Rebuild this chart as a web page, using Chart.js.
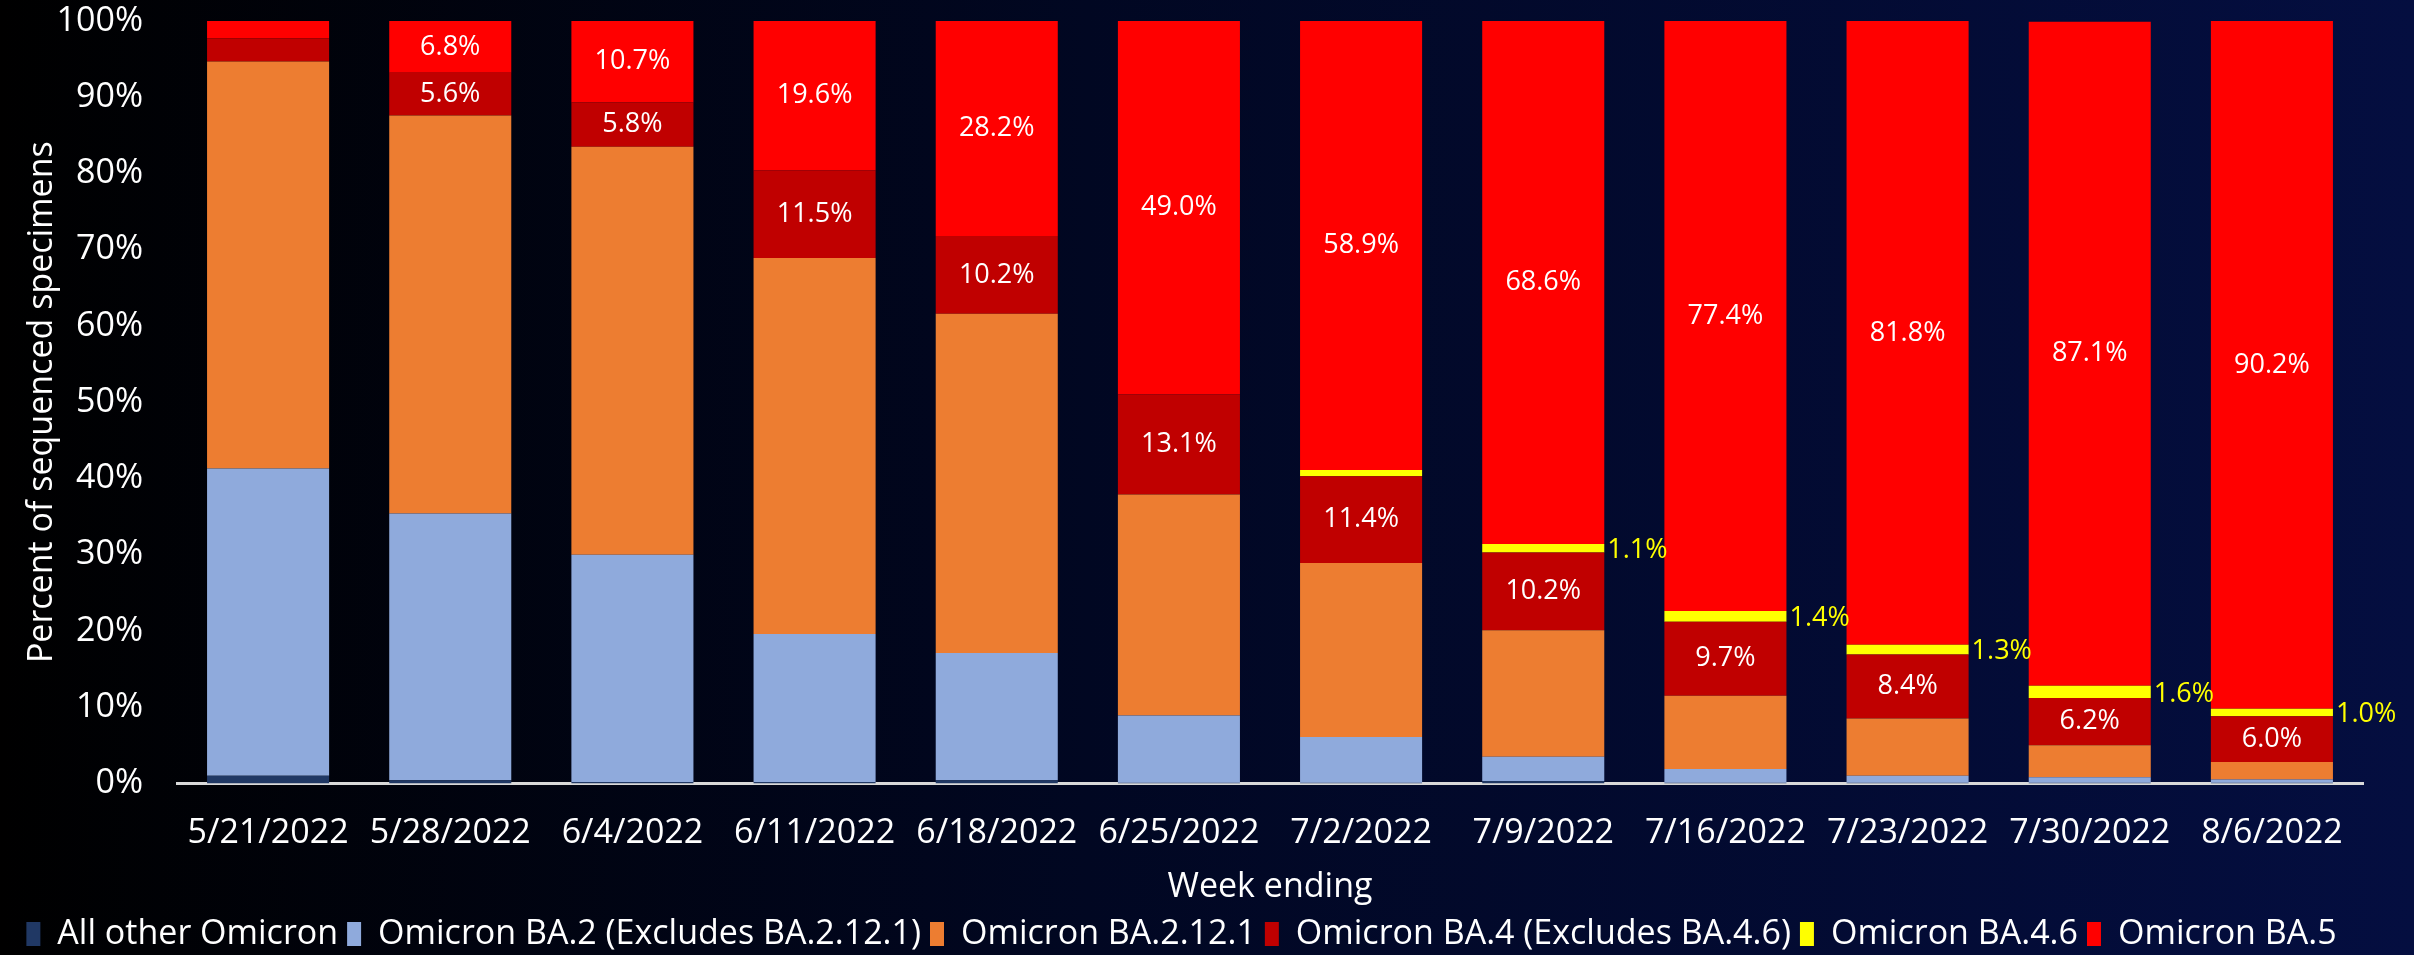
<!DOCTYPE html>
<html>
<head>
<meta charset="utf-8">
<script src="https://cdn.jsdelivr.net/npm/chart.js@4.4.1/dist/chart.umd.min.js"></script>
<style>
  html, body { margin: 0; padding: 0; }
  body { width: 2414px; height: 955px; overflow: hidden;
         background: linear-gradient(to right, #000000 0%, #010722 45%, #040e40 100%); }
  #wrap { width: 2414px; height: 955px; }
</style>
</head>
<body>
<div id="wrap"><canvas id="chart" width="2414" height="955"></canvas></div>
<script>
// ---------- Data ----------
const weeks = ['5/21/2022', '5/28/2022', '6/4/2022', '6/11/2022', '6/18/2022', '6/25/2022',
               '7/2/2022', '7/9/2022', '7/16/2022', '7/23/2022', '7/30/2022', '8/6/2022'];
const allOther  = [1.0, 0.4, 0.2, 0.2, 0.4, 0.1, 0.1, 0.3, 0.1, 0.1, 0.1, 0.1];
const ba2       = [40.3, 35.0, 29.8, 19.4, 16.7, 8.8, 6.0, 3.2, 1.8, 0.9, 0.7, 0.4];
const ba2121    = [53.4, 52.2, 53.5, 49.3, 44.5, 29.0, 22.8, 16.6, 9.6, 7.5, 4.2, 2.3];
const ba4       = [3.0, 5.6, 5.8, 11.5, 10.2, 13.1, 11.4, 10.2, 9.7, 8.4, 6.2, 6.0];
const ba46      = [0, 0, 0, 0, 0, 0, 0.8, 1.1, 1.4, 1.3, 1.6, 1.0];
const ba5       = [2.3, 6.8, 10.7, 19.6, 28.2, 49.0, 58.9, 68.6, 77.4, 81.8, 87.1, 90.2];
const yTicks    = [0, 10, 20, 30, 40, 50, 60, 70, 80, 90, 100];

const FONT = "'Open Sans', 'Noto Sans', sans-serif";

// ---------- Segment labels ----------
const segmentLabels = {
    id: 'segmentLabels',
    afterDatasetsDraw(chart) {
        const ctx = chart.ctx;
        ctx.save();
        ctx.font = `27px ${FONT}`;
        ctx.textBaseline = 'middle';
        chart.data.datasets.forEach((ds, i) => {
            const meta = chart.getDatasetMeta(i);
            meta.data.forEach((bar, j) => {
                const v = ds.data[j];
                const midY = (bar.y + bar.base) / 2;
                if (ds.label === 'Omicron BA.4.6') {
                    if (v < 1) return;
                    ctx.fillStyle = '#FFFF00';
                    ctx.textAlign = 'left';
                    ctx.fillText(v.toFixed(1) + '%', bar.x + bar.width / 2 + 3, midY + 2);
                } else if (ds.label === 'Omicron BA.5' || ds.label.startsWith('Omicron BA.4 ')) {
                    if (v < 5) return;
                    ctx.fillStyle = '#FFFFFF';
                    ctx.textAlign = 'center';
                    ctx.fillText(v.toFixed(1) + '%', bar.x, midY);
                }
            });
        });
        ctx.restore();
    }
};

new Chart(document.getElementById('chart'), {
    type: 'bar',
    data: {
        labels: weeks,
        datasets: [
            { label: 'All other Omicron', data: allOther, backgroundColor: '#203864' },
            { label: 'Omicron BA.2 (Excludes BA.2.12.1)', data: ba2, backgroundColor: '#8FAADC' },
            { label: 'Omicron BA.2.12.1', data: ba2121, backgroundColor: '#ED7D31' },
            { label: 'Omicron BA.4 (Excludes BA.4.6)', data: ba4, backgroundColor: '#C00000' },
            { label: 'Omicron BA.4.6', data: ba46, backgroundColor: '#FFFF00' },
            { label: 'Omicron BA.5', data: ba5, backgroundColor: '#FF0000' }
        ]
    },
    options: {
        responsive: false,
        animation: false,
        devicePixelRatio: 1,
        layout: { padding: { top: 0, right: 51, left: 0, bottom: -6 } },
        datasets: { bar: { barPercentage: 0.67, categoryPercentage: 1 } },
        plugins: {
            legend: {
                position: 'bottom',
                labels: {
                    color: '#FFFFFF',
                    font: { family: FONT, size: 34 },
                    boxWidth: 14,
                    boxHeight: 24,
                    padding: 9
                }
            },
            tooltip: { enabled: false }
        },
        scales: {
            x: {
                stacked: true,
                afterFit: (scale) => { scale.height -= 9; },
                grid: { display: false },
                border: { display: true, color: '#D9D9D9', width: 3 },
                ticks: { color: '#FFFFFF', font: { family: FONT, size: 34 }, padding: 22, maxRotation: 0 },
                title: { display: true, text: 'Week ending', color: '#FFFFFF',
                         font: { family: FONT, size: 34 }, padding: { top: 0, bottom: 0 } }
            },
            y: {
                stacked: true,
                min: 0,
                max: 100,
                afterBuildTicks: (scale) => { scale.ticks = yTicks.map(v => ({ value: v })); },
                afterFit: (scale) => { scale.width = 177; scale.paddingTop = 21; },
                grid: { display: false, drawTicks: false },
                border: { display: false },
                ticks: { color: '#FFFFFF', font: { family: FONT, size: 34 }, padding: 34,
                         callback: (v) => v + '%' },
                title: { display: true, text: 'Percent of sequenced specimens', color: '#FFFFFF',
                         font: { family: FONT, size: 34 }, padding: { top: 22, bottom: 0 } }
            }
        }
    },
    plugins: [segmentLabels]
});
</script>
</body>
</html>
